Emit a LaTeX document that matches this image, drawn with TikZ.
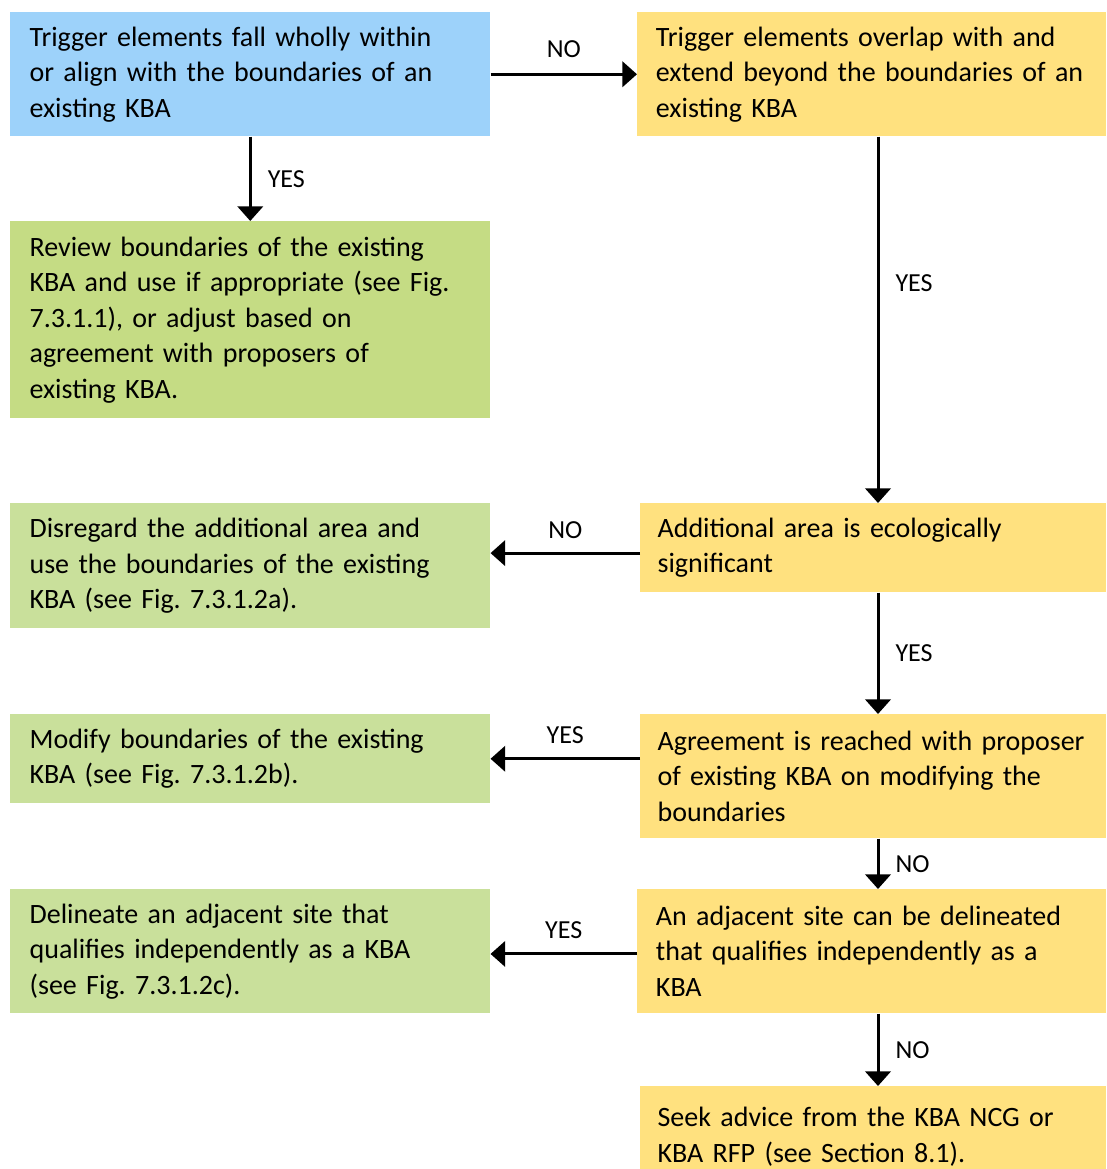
\documentclass[tikz,border=0pt]{standalone}
\usepackage{fontspec}
\setmainfont{Carlito}
\usetikzlibrary{arrows.meta,positioning}

\definecolor{kbablue}{HTML}{9DD2FA}
\definecolor{kbayellow}{HTML}{FFE17F}
\definecolor{kbagreen}{HTML}{C5DC84}
\definecolor{kbalight}{HTML}{C9E09B}

\tikzset{
  flowbox/.style={anchor=north west, inner xsep=14.5pt, inner ysep=0pt, align=left,
    font=\fontsize{21}{26.6}\selectfont\frenchspacing},
  leftbox/.style={flowbox, text width=331pt},
  rightbox/.style={flowbox, inner xsep=14pt, text width=323.75pt},
  narrowbox/.style={flowbox, inner xsep=13pt, text width=323.5pt},
  arr/.style={line width=2.25pt, -{Triangle[length=11pt,width=19pt]}},
  lbl/.style={font=\fontsize{19.5}{22}\selectfont, inner sep=0pt}
}

\begin{document}
\begin{tikzpicture}[x=0.75pt, y=-0.75pt]
  \useasboundingbox (0,0) rectangle (1106,1169);

  \node[leftbox, fill=kbablue, minimum height=93pt] (trigwithin) at (10,12)
    {Trigger elements fall wholly within\\or align with the boundaries of an\\existing KBA};
  \node[rightbox, fill=kbayellow, minimum height=93pt] (trigoverlap) at (637,12)
    {Trigger elements overlap with and\\extend beyond the boundaries of an\\existing KBA};
  \node[leftbox, fill=kbagreen, minimum height=147.75pt] (review) at (10,221)
    {Review boundaries of the existing\\KBA and use if appropriate (see Fig.\\7.3.1.1), or adjust based on\\agreement with proposers of\\existing KBA.};
  \node[leftbox, fill=kbalight, minimum height=93.75pt] (disregard) at (10,503)
    {Disregard the additional area and\\use the boundaries of the existing\\KBA (see Fig. 7.3.1.2a).};
  \node[narrowbox, fill=kbayellow, minimum height=66.75pt] (addsig) at (640,503)
    {Additional area is ecologically\\significant};
  \node[leftbox, fill=kbalight, minimum height=66.75pt] (modify) at (10,714)
    {Modify boundaries of the existing\\KBA (see Fig. 7.3.1.2b).};
  \node[narrowbox, fill=kbayellow, minimum height=93pt] (agree) at (640,714)
    {Agreement is reached with proposer\\of existing KBA on modifying the\\boundaries};
  \node[leftbox, fill=kbalight, minimum height=93pt] (delineate) at (10,889)
    {Delineate an adjacent site that\\qualifies independently as a KBA\\(see Fig. 7.3.1.2c).};
  \node[rightbox, fill=kbayellow, minimum height=93pt] (adjacent) at (637,889)
    {An adjacent site can be delineated\\that qualifies independently as a\\KBA};
  \node[narrowbox, fill=kbayellow, minimum height=76pt] (seek) at (640,1086)
    {Seek advice from the KBA NCG or\\KBA RFP (see Section 8.1).};

  % connectors
  \coordinate (spine) at (878,0);
  \draw[arr] (trigwithin) -- node[lbl, above=11pt] {NO} (trigoverlap);
  \draw[arr] (trigwithin) -- node[lbl, right=12pt] {YES} (review);
  \draw[arr] (trigoverlap.south -| spine) -- node[lbl, right=12pt, pos=0.4] {YES} (addsig.north -| spine);
  \draw[arr] ([yshift=-4pt]addsig.west) -- node[lbl, above=10pt] {NO} ([yshift=-4pt]addsig.west -| disregard.east);
  \draw[arr] (addsig.south -| spine) -- node[lbl, right=12pt] {YES} (agree.north -| spine);
  \draw[arr] (agree.west |- modify) -- node[lbl, above=10pt] {YES} (modify);
  \draw[arr] (agree.south -| spine) -- node[lbl, right=12pt] {NO} (adjacent.north -| spine);
  \draw[arr] ([yshift=-2pt]adjacent.west) -- node[lbl, above=10pt] {YES} ([yshift=-2pt]delineate.east);
  \draw[arr] (adjacent.south -| spine) -- node[lbl, right=12pt] {NO} (seek.north -| spine);
\end{tikzpicture}
\end{document}
